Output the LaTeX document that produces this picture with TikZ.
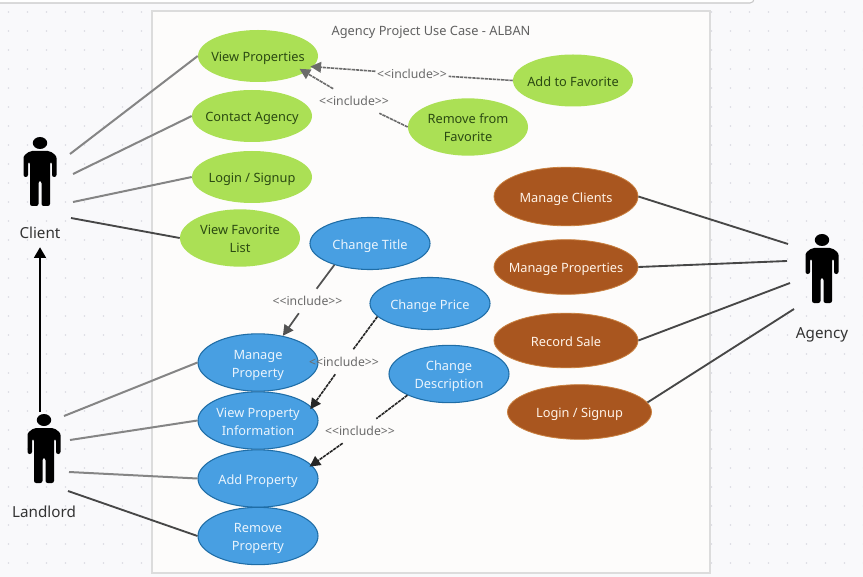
\documentclass[tikz,border=0pt]{standalone}
\usepackage{xcolor}
\usepackage{fontspec}
\setmainfont{Noto Sans}
\usetikzlibrary{arrows.meta, shapes.geometric}

\definecolor{canvasbg}{HTML}{F9F9FB}
\definecolor{canvasdot}{HTML}{DADAE2}
\definecolor{paperbg}{HTML}{FDFCFB}
\definecolor{paperline}{HTML}{DCDCDC}
\definecolor{caselime}{HTML}{ABE055}
\definecolor{limetext}{HTML}{2B4A12}
\definecolor{casesky}{HTML}{489FE2}
\definecolor{skyline}{HTML}{1F6DA6}
\definecolor{skytext}{HTML}{EAF4FD}
\definecolor{caserust}{HTML}{A9561F}
\definecolor{rustline}{HTML}{C9803F}
\definecolor{rusttext}{HTML}{FFF3E8}

\begin{document}
\begin{tikzpicture}[
    x=0.75pt, y=-0.75pt,
    usecase/.style={ellipse, inner sep=-10pt, align=center, font=\fontsize{9.6}{13.5}\selectfont,
                    minimum width=90pt, minimum height=39pt,
                    execute at begin node={\rule[-2.8pt]{0pt}{14pt}}},
    tall/.style={minimum height=43pt},
    twolines/.style={tall, text height=25pt},
    limecase/.style={usecase, fill=caselime, text=limetext},
    skycase/.style={usecase, fill=casesky, draw=skyline, line width=0.8pt, text=skytext},
    rustcase/.style={usecase, fill=caserust, draw=rustline, line width=0.6pt, text=rusttext,
                     minimum width=108pt, minimum height=41pt},
    inclabel/.style={font=\fontsize{9.2}{10}\selectfont, text=black!58, inner xsep=1pt, inner ysep=0pt, minimum height=18pt},
    actorlabel/.style={font=\fontsize{11.4}{13}\selectfont, text=black!80, minimum height=21pt, inner sep=0pt},
    assoc/.style={line width=1.5pt, draw=black!48},
    assocdark/.style={line width=1.4pt, draw=black!72},
    incl/.style={line width=1.2pt, dash pattern=on 2.5pt off 0.6pt},
    inctip/.style={incl, -{Triangle[length=8pt, width=8pt]}},
    actor/.pic={
      \fill (0,6) ellipse [x radius=5.4pt, y radius=4.5pt];
      \fill[rounded corners=1.6pt] (-10,14) -- (10,14) -- (16.5,19) -- (16.5,40) -- (12,40) -- (12,25)
        -- (10,25) -- (10,69) -- (1.5,69) -- (1.5,44) -- (-1.5,44) -- (-1.5,69) -- (-10,69)
        -- (-10,25) -- (-12,25) -- (-12,40) -- (-16.5,40) -- (-16.5,19) -- cycle;
    },
  ]
    \useasboundingbox (0,0) rectangle (863,577);
    \fill[canvasbg] (0,0) rectangle (863,577);
    \foreach \i in {0,...,45}
      \foreach \j in {0,...,29}
        \fill[canvasdot] (8.5+19*\i,12+19*\j) circle (0.6pt);
    \draw[black!22, fill=white, rounded corners=3pt, line width=0.8pt] (-10,-20) rectangle (754,3);
    \draw[paperline, fill=paperbg, line width=0.8pt] (152,11) rectangle (710,573);

    \node[font=\fontsize{9.6}{11}\selectfont, text=black!62] (title) at (431,32) {Agency Project Use Case - ALBAN};

    % client side
    \node[limecase] (view) at (258,56) {View Properties};
    \node[limecase] (contact) at (252,116) {Contact Agency};
    \node[limecase] (login) at (252,177) {Login / Signup};
    \node[limecase, twolines] (favlist) at (240,238) {View Favorite\\ List};
    \node[limecase] (addfav) at (573,80.5) {Add to Favorite};
    \node[limecase, twolines] (remfav) at (468,127) {Remove from\\ Favorite};

    % landlord side
    \node[skycase] (chtitle) at (370,243.5) {Change Title};
    \node[skycase] (chprice) at (430,303.5) {Change Price};
    \node[skycase, twolines] (chdesc) at (449,374) {Change\\ Description};
    \node[skycase, twolines] (manage) at (258,362.5) {Manage\\ Property};
    \node[skycase, twolines] (info) at (258,420.5) {View Property\\ Information};
    \node[skycase, tall] (addprop) at (258,478.5) {Add Property};
    \node[skycase, twolines] (remprop) at (258,536) {Remove\\ Property};

    % agency side
    \node[rustcase, minimum height=44pt] (clients) at (566,196.5) {Manage Clients};
    \node[rustcase] (props) at (566,267) {Manage Properties};
    \node[rustcase] (sale) at (566,340.5) {Record Sale};
    \node[rustcase] (agencylogin) at (579.5,412) {Login / Signup};

    % actors
    \pic at (40,137) {actor};
    \pic at (44,414) {actor};
    \pic at (822,234) {actor};
    \node[actorlabel] (client) at (40,233) {Client};
    \node[actorlabel] (landlord) at (44,512) {Landlord};
    \node[actorlabel] (agency) at (822,334.5) {Agency};

    \coordinate (c1) at (70,154);
    \coordinate (c2) at (73,174);
    \coordinate (c3) at (73,202);
    \coordinate (c4) at (71,218);
    \coordinate (l0) at (40,412);
    \coordinate (l1) at (64,416);
    \coordinate (l2) at (70,440);
    \coordinate (l3) at (69,472);
    \coordinate (l4) at (68,491);
    \coordinate (a1) at (788,244);
    \coordinate (a2) at (787,261);
    \coordinate (a3) at (790,283);
    \coordinate (a4) at (794,309);

    \draw[assoc] (c1) -- (view.west);
    \draw[assoc] (c2) -- (contact.west);
    \draw[assoc] (c3) -- (login.west);
    \draw[assocdark] (c4) -- (favlist.west);
    \draw[assoc] (l1) -- (manage.west);
    \draw[assoc] (l2) -- (info.west);
    \draw[assoc] (l3) -- (addprop.west);
    \draw[assocdark] (l4) -- (remprop.west);
    \draw[assocdark] (clients.east) -- (a1);
    \draw[assocdark] (props.east) -- (a2);
    \draw[assocdark] (sale.east) -- (a3);
    \draw[assocdark] (agencylogin.8) -- (a4);
    \draw[line width=1.3pt, -{Triangle[length=8pt, width=9pt]}] (l0) -- (client);

    % include labels
    \node[inclabel] (inca) at (412,74) {<{}<include>{}>};
    \node[inclabel] (incb) at (354,101) {<{}<include>{}>};
    \node[inclabel] (incc) at (307.5,301) {<{}<include>{}>};
    \node[inclabel] (incd) at (344,362) {<{}<include>{}>};
    \node[inclabel] (ince) at (360,431) {<{}<include>{}>};

    \draw[incl, black!58] (addfav.west) -- (inca);
    \draw[inctip, black!58, shorten >=-2pt] (inca) -- (view.-11);
    \draw[incl, black!58] (remfav.west) -- (incb);
    \draw[inctip, black!58, shorten >=-5pt] (incb) -- (view.-19);
    \draw[line width=1.3pt, draw=black!68] (chtitle.211) -- (incc);
    \draw[line width=1.3pt, draw=black!68, -{Triangle[length=8pt, width=8pt]}] (incc) -- (manage.47);
    \draw[incl, black!85] (chprice.194) -- (incd);
    \draw[inctip, black!85, shorten >=-2pt] (incd) -- (info.14);
    \draw[incl, black!85] (chdesc.207) -- (ince);
    \draw[inctip, black!85, shorten >=-2pt] (ince) -- (addprop.14);
\end{tikzpicture}
\end{document}
